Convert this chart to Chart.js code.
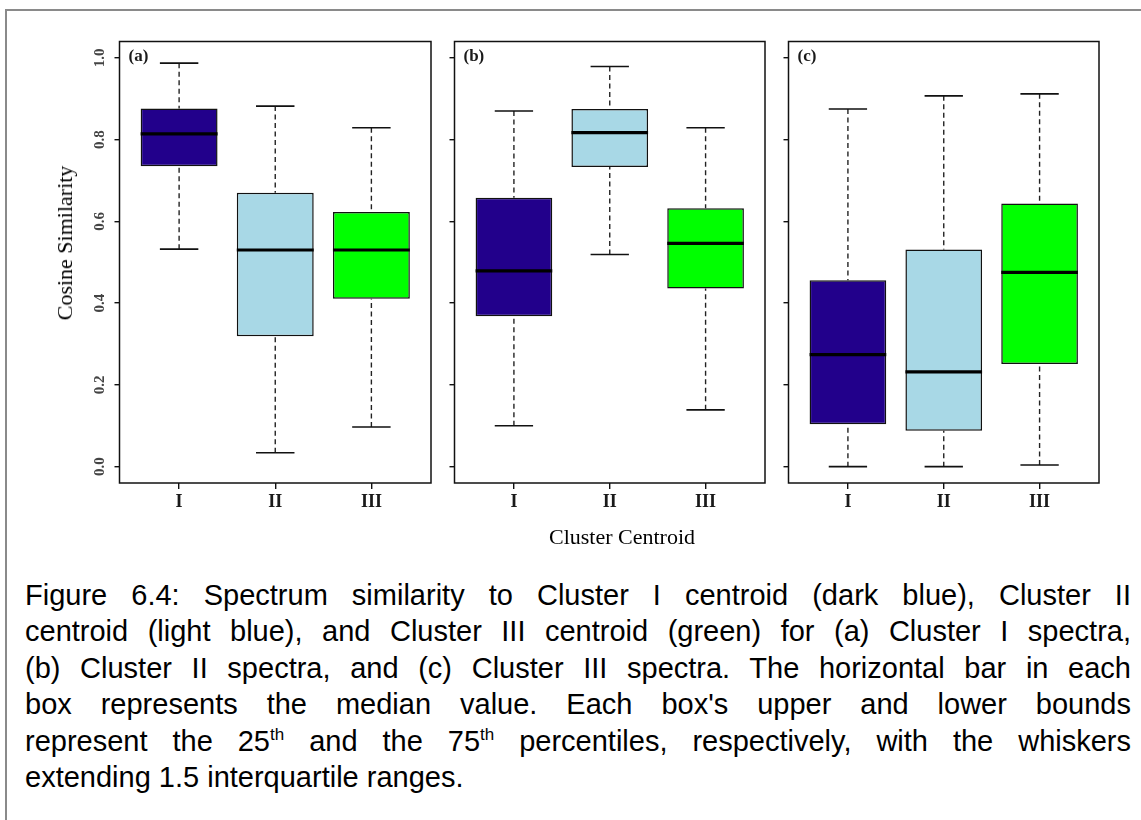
<!DOCTYPE html>
<html>
<head>
<meta charset="utf-8">
<script src="https://cdn.jsdelivr.net/npm/chart.js@4.4.1/dist/chart.umd.min.js"></script>
<style>
  html, body { margin: 0; padding: 0; background: #fff; overflow: hidden; }
  body { width: 1141px; height: 820px; position: relative; }
  #frame { position: absolute; left: 5px; top: 9px; width: 1300px; height: 1000px;
           border-left: 2px solid #8a8a8a; border-top: 2px solid #8a8a8a; }
  canvas { position: absolute; top: 0; }
  #panelA { left: 0; }
  #panelB { left: 435px; }
  #panelC { left: 769px; }
  .axis-title { position: absolute; font-family: 'Liberation Serif', 'Times New Roman', serif;
                font-size: 22px; line-height: 1; color: #000; white-space: nowrap; }
  #yTitle { left: 65px; top: 243px; transform: translate(-50%, -50%) rotate(-90deg); }
  #xTitle { left: 622px; top: 537px; transform: translate(-50%, -50%); }
  #caption { position: absolute; left: 25px; top: 577px; width: 1106px;
             font-family: 'Liberation Sans', Arial, sans-serif; font-size: 29px; line-height: 36.4px; color: #000; }
  #caption .ln { text-align: justify; text-align-last: justify; }
  #caption .last { text-align: left; text-align-last: left; }
  #caption sup { font-size: 17px; line-height: 0; vertical-align: 11px; }
</style>
</head>
<body>
<div id="frame"></div>
<canvas id="panelA" width="440" height="520"></canvas>
<canvas id="panelB" width="340" height="520"></canvas>
<canvas id="panelC" width="340" height="520"></canvas>
<div class="axis-title" id="yTitle">Cosine Similarity</div>
<div class="axis-title" id="xTitle">Cluster Centroid</div>
<div id="caption">
  <div class="ln">Figure 6.4: Spectrum similarity to Cluster I centroid (dark blue), Cluster II</div>
  <div class="ln">centroid (light blue), and Cluster III centroid (green) for (a) Cluster I spectra,</div>
  <div class="ln">(b) Cluster II spectra, and (c) Cluster III spectra. The horizontal bar in each</div>
  <div class="ln">box represents the median value. Each box's upper and lower bounds</div>
  <div class="ln">represent the 25<sup>th</sup> and the 75<sup>th</sup> percentiles, respectively, with the whiskers</div>
  <div class="ln last">extending 1.5 interquartile ranges.</div>
</div>
<script>
// categorias y colores
const centroids = ['I', 'II', 'III'];
const boxColors = ['#22008b', '#a8d8e6', '#00ff00'];
const yTickValues = [0, 0.2, 0.4, 0.6, 0.8, 1.0];
const yTickLabels = ['0.0', '0.2', '0.4', '0.6', '0.8', '1.0'];

// (a) Cluster I spectra
const lowA  = [0.532, 0.034, 0.097];
const q1A   = [0.735, 0.319, 0.411];
const medA  = [0.814, 0.530, 0.530];
const q3A   = [0.876, 0.670, 0.623];
const highA = [0.987, 0.882, 0.829];

// (b) Cluster II spectra
const lowB  = [0.100, 0.519, 0.139];
const q1B   = [0.368, 0.733, 0.436];
const medB  = [0.479, 0.817, 0.546];
const q3B   = [0.658, 0.875, 0.632];
const highB = [0.870, 0.979, 0.829];

// (c) Cluster III spectra
const lowC  = [0.000, 0.000, 0.004];
const q1C   = [0.104, 0.088, 0.251];
const medC  = [0.274, 0.232, 0.475];
const q3C   = [0.456, 0.531, 0.644];
const highC = [0.875, 0.907, 0.912];

const serif = "'Liberation Serif', 'Times New Roman', serif";
Chart.defaults.font.family = serif;

// marco del panel y letra (a)/(b)/(c)
const panelFrame = {
    id: 'panelFrame',
    afterDatasetsDraw(chart, args, opts) {
        const ctx = chart.ctx;
        const a = chart.chartArea;
        ctx.save();
        ctx.strokeStyle = '#111';
        ctx.lineWidth = 1.5;
        ctx.strokeRect(a.left, a.top, a.right - a.left, a.bottom - a.top);
        ctx.fillStyle = '#1a1a1a';
        ctx.font = 'bold 17px ' + serif;
        ctx.textBaseline = 'middle';
        ctx.fillText(opts.letter, a.left + 9, a.top + 15);
        ctx.restore();
    }
};

function makePanel(id, letter, low, q1, med, q3, high, showY, axisWidth, padRight) {
    const boxes = [], medians = [], whiskers = [], staples = [];
    centroids.forEach((c, i) => {
        const x = i + 1;
        boxes.push({ x: x, y: [q1[i], q3[i]] });
        medians.push({ x: x - 0.4, y: med[i] }, { x: x + 0.4, y: med[i] }, { x: x, y: null });
        whiskers.push({ x: x, y: high[i] }, { x: x, y: q3[i] }, { x: x, y: null },
                      { x: x, y: low[i] }, { x: x, y: q1[i] }, { x: x, y: null });
        staples.push({ x: x - 0.2, y: high[i] }, { x: x + 0.2, y: high[i] }, { x: x, y: null },
                     { x: x - 0.2, y: low[i] }, { x: x + 0.2, y: low[i] }, { x: x, y: null });
    });

    const lineBase = { type: 'line', pointRadius: 0, spanGaps: false, tension: 0, borderCapStyle: 'butt' };

    return new Chart(document.getElementById(id), {
        type: 'bar',
        data: {
            datasets: [
                Object.assign({}, lineBase, { data: medians, borderColor: '#000', borderWidth: 3.2, order: 0 }),
                Object.assign({}, lineBase, { data: staples, borderColor: '#111', borderWidth: 1.6, order: 1 }),
                Object.assign({}, lineBase, { data: whiskers, borderColor: '#222', borderWidth: 1.4, borderDash: [5, 3.5], order: 2 }),
                {
                    type: 'bar',
                    data: boxes,
                    backgroundColor: boxColors,
                    borderColor: '#111',
                    borderWidth: 1.5,
                    borderSkipped: false,
                    barPercentage: 0.8,
                    categoryPercentage: 1,
                    order: 3
                }
            ]
        },
        options: {
            responsive: false,
            animation: false,
            events: [],
            layout: { padding: { top: 41.5, right: padRight, bottom: 0, left: 0 } },
            plugins: {
                legend: { display: false },
                tooltip: { enabled: false },
                panelFrame: { letter: letter }
            },
            scales: {
                x: {
                    type: 'linear',
                    min: 0.38,
                    max: 3.62,
                    offset: false,
                    afterBuildTicks: s => { s.ticks = centroids.map((c, i) => ({ value: i + 1 })); },
                    afterFit: s => { s.height = 520 - 483; },
                    grid: { offset: false, drawOnChartArea: false, drawTicks: true, tickLength: 6, color: '#111', lineWidth: 1.4 },
                    border: { display: false },
                    ticks: {
                        padding: 3,
                        color: '#1a1a1a',
                        autoSkip: false,
                        maxRotation: 0,
                        font: { family: serif, size: 18, weight: 'bold' },
                        callback: (v, i) => centroids[i]
                    }
                },
                y: {
                    type: 'linear',
                    min: -0.04,
                    max: 1.04,
                    afterBuildTicks: s => { s.ticks = yTickValues.map(v => ({ value: v })); },
                    afterFit: s => { s.width = axisWidth; },
                    grid: { drawOnChartArea: false, drawTicks: true, tickLength: 5, color: '#111', lineWidth: 1.4 },
                    border: { display: false },
                    ticks: {
                        display: showY,
                        minRotation: 90,
                        maxRotation: 90,
                        crossAlign: 'center',
                        padding: 5,
                        color: '#444',
                        font: { family: serif, size: 15, weight: 'bold' },
                        callback: (v, i) => yTickLabels[i]
                    }
                }
            }
        },
        plugins: [panelFrame]
    });
}

makePanel('panelA', '(a)', lowA, q1A, medA, q3A, highA, true, 119.5, 9);
makePanel('panelB', '(b)', lowB, q1B, medB, q3B, highB, false, 19.5, 10);
makePanel('panelC', '(c)', lowC, q1C, medC, q3C, highC, false, 19.5, 10);
</script>
</body>
</html>
